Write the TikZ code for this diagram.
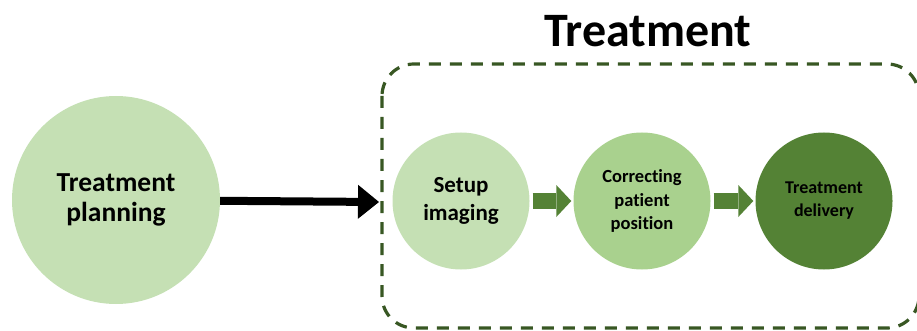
\documentclass[tikz,border=0pt]{standalone}
\usepackage{fontspec}
\setmainfont{Carlito}[Ligatures=NoCommon]
\usetikzlibrary{arrows.meta}
\definecolor{lightgreen}{HTML}{C5E0B4}
\definecolor{midgreen}{HTML}{A9D18E}
\definecolor{darkgreen}{HTML}{548235}
\definecolor{boxgreen}{HTML}{385723}
\begin{document}
\begin{tikzpicture}[x=1pt, y=-1pt,
    stage/.style={circle, inner sep=0pt, align=center, font=\bfseries},
    flowarrow/.style={darkgreen, line width=16pt, shorten <=3pt, shorten >=2pt,
        -{Triangle[length=15pt, width=32pt, line width=0pt]}}]
    \useasboundingbox (0,0) rectangle (917,331);

    % Treatment box
    \draw[boxgreen, line width=3.2pt, dash pattern=on 12pt off 9pt, rounded corners=32pt]
        (382,64) rectangle (919,328);
    \node[font=\fontsize{48}{52}\selectfont\bfseries] (title) at (648,31) {Treatment};

    % Stages
    \node[stage, fill=lightgreen, minimum size=208pt,
        font=\fontsize{27.5}{30}\selectfont\bfseries] (plan) at (116,200) {Treatment\\planning};
    \node[stage, fill=lightgreen, minimum size=137pt,
        font=\fontsize{23}{28}\selectfont\bfseries] (setup) at (461,201) {Setup\\imaging};
    \node[stage, fill=midgreen, minimum size=137pt,
        font=\fontsize{18.5}{23.5}\selectfont\bfseries] (correct) at (642,201) {Correcting\\patient\\position};
    \node[stage, fill=darkgreen, minimum size=137pt,
        font=\fontsize{18}{23}\selectfont\bfseries] (deliver) at (824,201) {Treatment\\delivery};

    % Arrows
    \coordinate (tip) at (379,202);
    \draw[line width=8pt, -{Triangle[length=21pt, width=34pt, line width=0pt]}] (plan) -- (tip);
    \draw[flowarrow] (setup) -- (correct);
    \draw[flowarrow] (correct) -- (deliver);
\end{tikzpicture}
\end{document}
